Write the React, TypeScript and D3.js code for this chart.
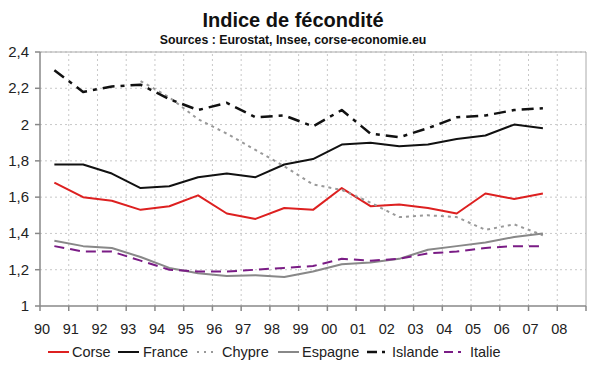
import * as d3 from 'd3';

const years = d3.range(1990, 2008);
const tickLabels = ['90', '91', '92', '93', '94', '95', '96', '97', '98', '99', '00', '01', '02', '03', '04', '05', '06', '07', '08'];
const yTicks = [1, 1.2, 1.4, 1.6, 1.8, 2, 2.2, 2.4];

const corse = [1.68, 1.6, 1.58, 1.53, 1.55, 1.61, 1.51, 1.48, 1.54, 1.53, 1.65, 1.55, 1.56, 1.54, 1.51, 1.62, 1.59, 1.62];
const france = [1.78, 1.78, 1.73, 1.65, 1.66, 1.71, 1.73, 1.71, 1.78, 1.81, 1.89, 1.9, 1.88, 1.89, 1.92, 1.94, 2.0, 1.98];
// Chypre only from 1993
const chypre = [null, null, null, 2.24, 2.15, 2.03, 1.95, 1.86, 1.77, 1.67, 1.64, 1.57, 1.49, 1.5, 1.49, 1.42, 1.45, 1.39];
const espagne = [1.36, 1.33, 1.32, 1.27, 1.21, 1.18, 1.165, 1.17, 1.16, 1.19, 1.23, 1.24, 1.26, 1.31, 1.33, 1.35, 1.38, 1.4];
const islande = [2.3, 2.18, 2.21, 2.22, 2.14, 2.08, 2.12, 2.04, 2.05, 1.99, 2.08, 1.95, 1.93, 1.98, 2.04, 2.05, 2.08, 2.09];
const italie = [1.33, 1.3, 1.3, 1.25, 1.2, 1.19, 1.19, 1.2, 1.21, 1.22, 1.26, 1.25, 1.26, 1.29, 1.3, 1.32, 1.33, 1.33];

const series = [
  { name: 'Corse', values: corse, color: '#dd2020', dash: 'none', legendDash: 'none', width: 2 },
  { name: 'France', values: france, color: '#111111', dash: 'none', legendDash: 'none', width: 2 },
  { name: 'Chypre', values: chypre, color: '#999999', dash: '3,4', legendDash: '2,5', width: 2 },
  { name: 'Espagne', values: espagne, color: '#888888', dash: 'none', legendDash: 'none', width: 2 },
  { name: 'Islande', values: islande, color: '#111111', dash: '12,6,4,6', legendDash: '10,5,3,5', width: 2.5 },
  { name: 'Italie', values: italie, color: '#7a1c85', dash: '10,6', legendDash: '9,5,3,5', width: 2 },
];

const legendPos = [
  { lx: 48, tx: 72 },
  { lx: 118, tx: 143 },
  { lx: 197, tx: 222 },
  { lx: 278, tx: 302 },
  { lx: 367, tx: 392 },
  { lx: 444, tx: 470 },
];

const W = 600;
const H = 372;
const font = '"Liberation Sans", Arial, sans-serif';

export default function App() {
  const x = d3.scaleLinear().domain([1990, 2009]).range([40, 586]);
  const y = d3.scaleLinear().domain([1, 2.4]).range([306, 52]);

  const line = d3
    .line<number | null>()
    .defined((d) => d != null)
    .x((_, i) => x(years[i] + 0.5))
    .y((d) => y(d as number));

  const tickYears = d3.range(1990, 2010);

  return (
    <svg
      width={W}
      height={H}
      style={{ position: 'absolute', left: 0, top: 0, background: '#fff' }}
      fontFamily={font}
    >
      <rect width={W} height={H} fill="#fff" />
      <text x={293} y={27} textAnchor="middle" fontSize={20} fontWeight="bold" fill="#111">
        Indice de fécondité
      </text>
      <text x={293} y={44} textAnchor="middle" fontSize={12.3} fontWeight="bold" fill="#111">
        Sources : Eurostat, Insee, corse-economie.eu
      </text>

      {/* grid */}
      {yTicks.slice(1).map((t) => (
        <line key={'gy' + t} x1={x(1990)} x2={x(2009)} y1={y(t)} y2={y(t)} stroke="#c8c8c8" strokeDasharray="2,3" />
      ))}
      {tickYears.slice(1, -1).map((t) => (
        <line key={'gx' + t} x1={x(t)} x2={x(t)} y1={y(1)} y2={y(2.4)} stroke="#c8c8c8" strokeDasharray="2,3" />
      ))}
      {/* frame */}
      <line x1={x(1990)} x2={x(2009)} y1={y(2.4)} y2={y(2.4)} stroke="#aaa" />
      <line x1={x(2009)} x2={x(2009)} y1={y(2.4)} y2={y(1)} stroke="#aaa" />
      <line x1={x(1990)} x2={x(1990)} y1={y(2.4)} y2={y(1)} stroke="#888" strokeWidth={1.5} />
      <line x1={x(1990)} x2={x(2009)} y1={y(1)} y2={y(1)} stroke="#888" strokeWidth={1.5} />

      {/* y axis */}
      {yTicks.map((t) => (
        <g key={'yt' + t}>
          <line x1={x(1990) - 5} x2={x(1990)} y1={y(t)} y2={y(t)} stroke="#888" strokeWidth={1.5} />
          <text x={29} y={y(t) + 5} textAnchor="end" fontSize={15} fill="#222">
            {d3.format('')(t).replace('.', ',')}
          </text>
        </g>
      ))}

      {/* x axis */}
      {tickYears.map((t) => (
        <line key={'xt' + t} x1={x(t)} x2={x(t)} y1={y(1)} y2={y(1) + 5} stroke="#888" strokeWidth={1.5} />
      ))}
      {tickLabels.map((l, i) => (
        <text key={'xl' + l} x={x(1990 + i) + 2} y={334} textAnchor="middle" fontSize={14.5} fill="#222">
          {l}
        </text>
      ))}

      {/* series */}
      {series.map((s) => (
        <path
          key={s.name}
          d={line(s.values) || ''}
          fill="none"
          stroke={s.color}
          strokeWidth={s.width}
          strokeDasharray={s.dash}
          strokeLinejoin="round"
        />
      ))}

      {/* legend */}
      {series.map((s, i) => (
        <g key={'lg' + s.name}>
          <line
            x1={legendPos[i].lx}
            x2={legendPos[i].lx + 21}
            y1={352}
            y2={352}
            stroke={s.color}
            strokeWidth={s.width}
            strokeDasharray={s.legendDash}
          />
          <text x={legendPos[i].tx} y={357} fontSize={14.5} fill="#222">
            {s.name}
          </text>
        </g>
      ))}
    </svg>
  );
}
